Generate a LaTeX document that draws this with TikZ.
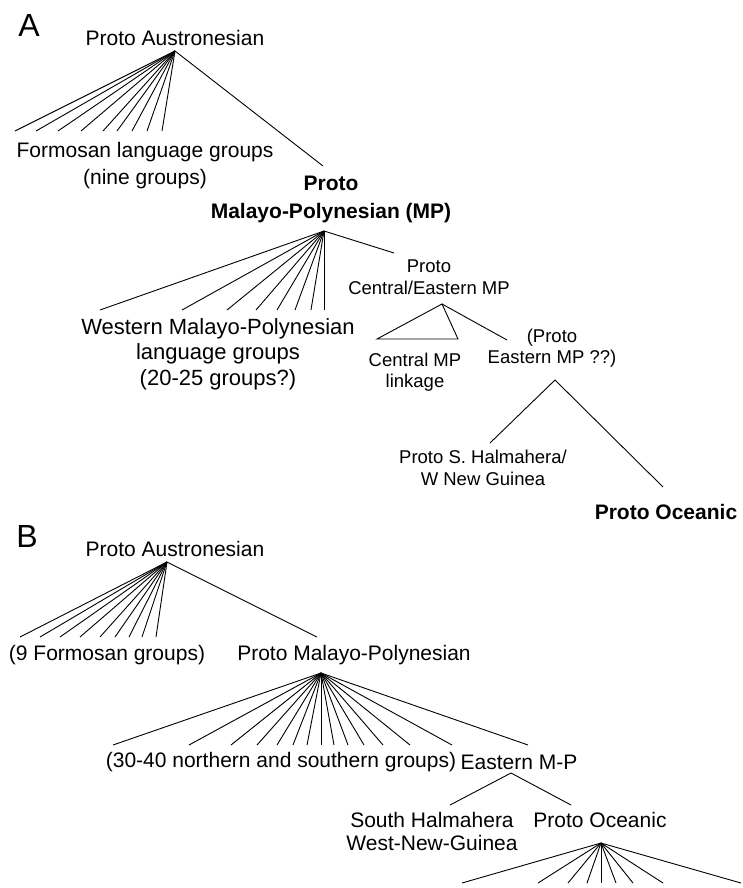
\documentclass[tikz,border=0pt]{standalone}
\usepackage{fontspec}
\setmainfont{Liberation Sans}
\begin{document}
\begin{tikzpicture}[x=1pt,y=-1pt,
  lbl/.style={font=\fontsize{21}{27}\selectfont, align=center, inner sep=0pt},
  big/.style={font=\fontsize{22}{25.5}\selectfont, align=center, inner sep=0pt},
  sml/.style={font=\fontsize{18.5}{21.5}\selectfont, align=center, inner sep=0pt},
  bld/.style={font=\fontsize{21}{28}\selectfont\bfseries, align=center, inner sep=0pt},
  panel/.style={font=\fontsize{32}{32}\selectfont, inner sep=0pt},
  edge/.style={line width=0.9pt, black}]
\useasboundingbox (0,0) rectangle (743,888);
% ---------------- Panel A ----------------
\node[panel] (labA) at (29,25) {A};
\node[lbl] (paA) at (175,38) {Proto Austronesian};
\coordinate (paAx) at (175,51);
\foreach \x [count=\i] in {15,36,58,81,103,117,132,147,162} {
  \coordinate (faA\i) at (\x,131);
  \draw[edge] (paAx) -- (faA\i);
}
\node[lbl] (formA) at (145,166) {Formosan language groups\\(nine groups)};
\coordinate (mpAtop) at (323,166);
\draw[edge] (paAx) -- (mpAtop);
\node[bld] (mpA) at (331,199) {Proto\\Malayo-Polynesian (MP)};
\coordinate (mpAx) at (324,231);
\foreach \x [count=\i] in {100,182,227,256,277,295,311,324} {
  \coordinate (fmA\i) at (\x,310);
  \draw[edge] (mpAx) -- (fmA\i);
}
\node[big] (wmp) at (218,354) {Western Malayo-Polynesian\\language groups\\(20-25 groups?)};
\coordinate (ceTop) at (394,253);
\draw[edge] (mpAx) -- (ceTop);
\node[sml] (ce) at (429,277) {Proto\\Central/Eastern MP};
\coordinate (ceX) at (442,304);
\coordinate (triL) at (377,339);
\coordinate (triR) at (458,339);
\draw[edge, line join=miter] (ceX) -- (triL) -- (triR) -- cycle;
\coordinate (pempTop) at (507,340);
\draw[edge] (ceX) -- (pempTop);
\node[sml] (cmp) at (415,372) {Central MP\\linkage};
\node[sml] (pemp) at (552,348) {(Proto\\Eastern MP ??)};
\coordinate (pempX) at (555,380);
\coordinate (halTop) at (490,443);
\coordinate (poATop) at (663,487);
\draw[edge] (pempX) -- (halTop);
\draw[edge] (pempX) -- (poATop);
\node[sml] (halA) at (483,468) {Proto S. Halmahera/\\W New Guinea};
\node[bld] (poA) at (666,512) {Proto Oceanic};
% ---------------- Panel B ----------------
\node[panel] (labB) at (27,536) {B};
\node[lbl] (paB) at (175,549) {Proto Austronesian};
\coordinate (paBx) at (167,562);
\foreach \x [count=\i] in {20,40,60,80,100,115,129,142,156} {
  \coordinate (faB\i) at (\x,637);
  \draw[edge] (paBx) -- (faB\i);
}
\coordinate (pmpBTop) at (317,637);
\draw[edge] (paBx) -- (pmpBTop);
\node[lbl] (formB) at (107,655) {(9 Formosan groups)};
\node[lbl] (pmpB) at (354,655) {Proto Malayo-Polynesian};
\coordinate (pmpBx) at (321,673);
\foreach \x [count=\i] in {113,189,231,257,277,293,307,321,334,348,364,383,410,452,528} {
  \coordinate (fmB\i) at (\x,745);
  \draw[edge] (pmpBx) -- (fmB\i);
}
\node[lbl] (nsg) at (281,762) {(30-40 northern and southern groups)};
\node[lbl] (empB) at (519,762) {Eastern M-P};
\coordinate (empBx) at (511,773);
\coordinate (shTop) at (450,805);
\coordinate (poBTop) at (571,805);
\draw[edge] (empBx) -- (shTop);
\draw[edge] (empBx) -- (poBTop);
\node[lbl, font=\fontsize{21}{23}\selectfont] (shB) at (432,831) {South Halmahera\\West-New-Guinea};
\node[lbl] (poB) at (600,820) {Proto Oceanic};
\coordinate (poBx) at (601,843);
\foreach \x [count=\i] in {462,538,568,587,601,616,633,663,741} {
  \coordinate (foB\i) at (\x,883);
  \draw[edge] (poBx) -- (foB\i);
}
\end{tikzpicture}
\end{document}
